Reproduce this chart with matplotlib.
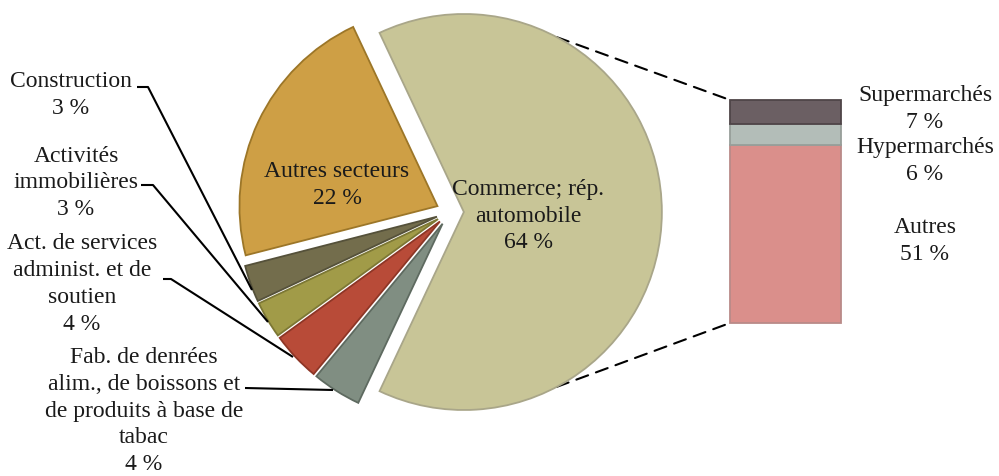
import matplotlib
matplotlib.use("Agg")
import matplotlib.pyplot as plt
from matplotlib.patches import ConnectionPatch
import numpy as np

# ---- data ----
pie_labels = ["Commerce; rép.\nautomobile", "Autres secteurs", "Construction",
              "Activités\nimmobilières", "Act. de services\nadminist. et de\nsoutien",
              "Fab. de denrées\nalim., de boissons et\nde produits à base de\ntabac"]
pie_values = [64, 22, 3, 3, 4, 4]
pie_colors = ["#C8C597", "#CE9F45", "#736D4C", "#A19B48", "#B84B38", "#808E82"]
pie_edges = ["#A9A689", "#9C7628", "#55513A", "#7C7734", "#8E3626", "#5E6A60"]

bar_labels = ["Autres", "Hypermarchés", "Supermarchés"]
bar_values = [51, 6, 7]
bar_colors = ["#DA8F8B", "#B3BDB8", "#6B5F63"]
bar_edges = ["#B98A88", "#979E9A", "#4F4548"]

W, H = 999, 476
fig = plt.figure(figsize=(W / 100, H / 100), dpi=100)
ax = fig.add_axes([0, 0, 1, 1])
FONT = "Liberation Serif"
FS = 17
LS = 1.36
TC = "#1a1a1a"

def py(y):
    return H - y

center = (450, py(212))
radius = 198
total = sum(pie_values)
start = -180 * pie_values[0] / total
wedges, _ = ax.pie(pie_values, colors=pie_colors, startangle=start, counterclock=True,
                   explode=[0.07 * radius] * len(pie_values), center=center, radius=radius,
                   wedgeprops=dict(linewidth=1.3))
for w, ec in zip(wedges, pie_edges):
    w.set_edgecolor(ec)
ax.set_xlim(0, W)
ax.set_ylim(0, H)
ax.set_aspect("equal")
ax.axis("off")

# inner labels
ax.text(337, py(185), f"{pie_labels[1]}\n{pie_values[1]} %", ha="center", va="center",
        fontsize=FS, family=FONT, linespacing=LS, color=TC)
ax.text(528, py(216), f"{pie_labels[0]}\n{pie_values[0]} %", ha="center", va="center",
        fontsize=FS, family=FONT, linespacing=LS, color=TC)

# outer labels with leader lines
outer = [
    (2, (71, 95), [(137, 87), (148, 87), (252, 290)]),
    (3, (76, 183), [(141, 185), (153, 185), (268, 322)]),
    (4, (82, 284), [(163, 279), (171, 279), (293, 357)]),
    (5, (144, 411), [(245, 388), (333, 390)]),
]
for idx, (tx, ty), pts in outer:
    ax.text(tx, py(ty), f"{pie_labels[idx]}\n{pie_values[idx]} %", ha="center", va="center",
            fontsize=FS, family=FONT, linespacing=LS, color=TC)
    xs = [p[0] for p in pts]
    ys = [py(p[1]) for p in pts]
    ax.plot(xs, ys, color="black", lw=1.5, solid_capstyle="butt")

# bar of pie
bx0, bx1, by0, by1 = 730, 841, 100, 323
bax = fig.add_axes([bx0 / W, (H - by1) / H, (bx1 - bx0) / W, (by1 - by0) / H])
bottom = 0
for v, c, ec in zip(bar_values, bar_colors, bar_edges):
    b = bax.bar(0, v, bottom=bottom, width=1, color=c, edgecolor=ec, linewidth=1.3)
    for r in b:
        r.set_clip_on(False)
    bottom += v
bax.set_xlim(-0.5, 0.5)
bax.set_ylim(0, sum(bar_values))
bax.axis("off")

# bar labels
bar_text_pos = {"Supermarchés": 109, "Hypermarchés": 161, "Autres": 241}
for lab, v in zip(bar_labels, bar_values):
    ax.text(925, py(bar_text_pos[lab]), f"{lab}\n{v} %", ha="center", va="center",
            fontsize=FS, family=FONT, linespacing=LS, color=TC)

# connection lines from the commerce wedge to the bar
cw = wedges[0]
ccx, ccy = cw.center
for ang, ybar in [(62, sum(bar_values)), (-62, 0)]:
    p = (ccx + radius * np.cos(np.radians(ang)), ccy + radius * np.sin(np.radians(ang)))
    con = ConnectionPatch(xyA=p, coordsA=ax.transData, xyB=(-0.5, ybar), coordsB=bax.transData,
                          color="black", lw=1.5, linestyle=(0, (6, 4)), zorder=0)
    fig.add_artist(con)

fig.savefig("out.png", dpi=100)
